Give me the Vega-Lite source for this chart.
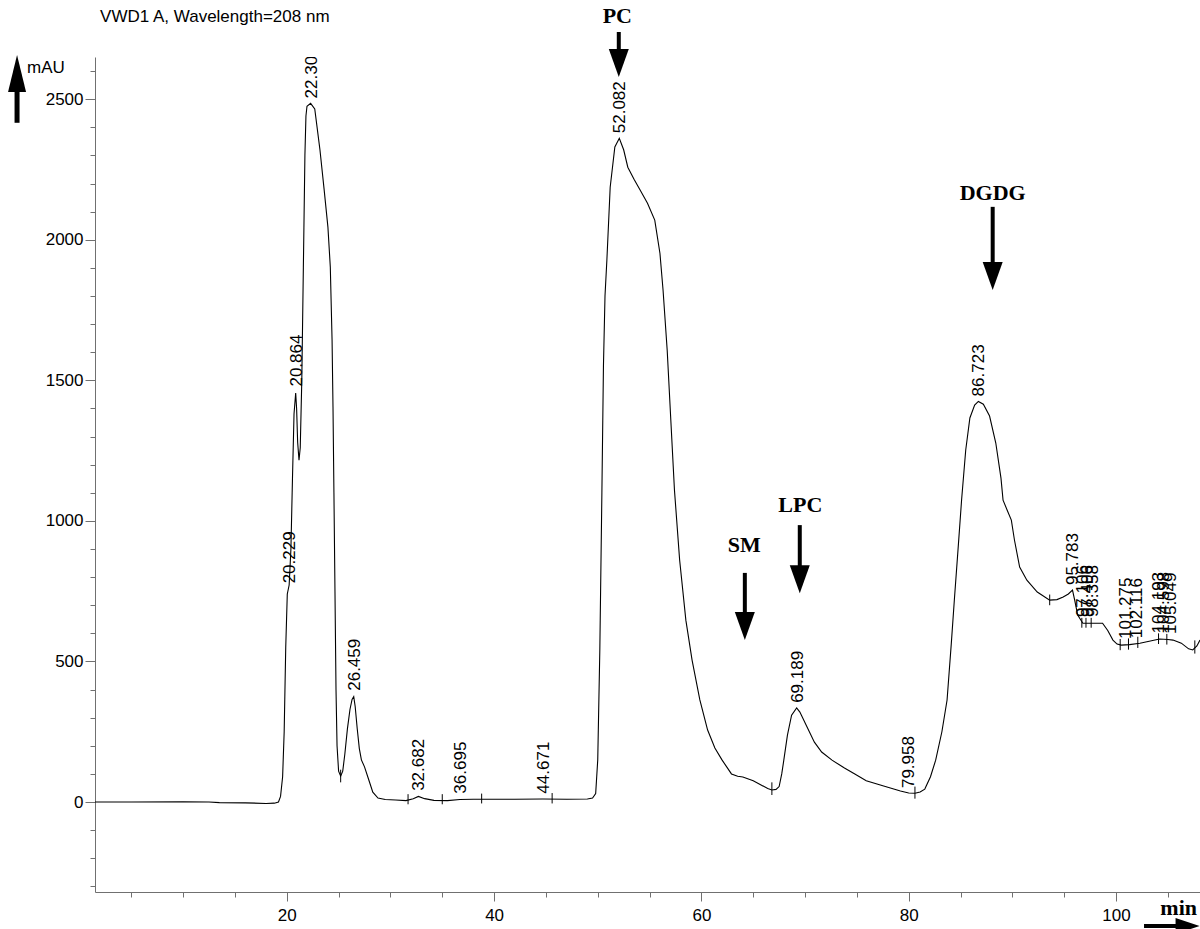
{
  "$schema": "https://vega.github.io/schema/vega-lite/v6.json",
  "autosize": "none",
  "width": 1105,
  "height": 835,
  "padding": {"left": 95, "top": 57, "right": 0, "bottom": 37},
  "background": "white",
  "config": {
    "view": {"stroke": null},
    "axis": {"grid": false, "domainColor": "#707070", "tickColor": "#707070", "labelColor": "#000000", "labelFont": "Liberation Sans", "labelFontSize": 17, "labelOverlap": false, "labelFlush": false}
  },
  "resolve": {"axis": {"y": "independent"}},
  "datasets": {
    "trace": [
      {"t":1.5,"v":0},{"t":5,"v":0},{"t":10,"v":0.5},{"t":12.5,"v":0},{"t":13.5,"v":-2},{"t":16,"v":-3},{"t":18,"v":-5},{"t":18.8,"v":-4},{"t":19.2,"v":0},{"t":19.4,"v":20},{"t":19.6,"v":90},{"t":19.75,"v":250},{"t":19.9,"v":550},{"t":20.05,"v":740},{"t":20.23,"v":772},{"t":20.4,"v":900},{"t":20.55,"v":1150},{"t":20.7,"v":1380},{"t":20.86,"v":1455},{"t":20.95,"v":1400},{"t":21.05,"v":1280},{"t":21.18,"v":1216},{"t":21.3,"v":1260},{"t":21.45,"v":1500},{"t":21.6,"v":1900},{"t":21.75,"v":2300},{"t":21.85,"v":2440},{"t":21.95,"v":2475},{"t":22.3,"v":2485},{"t":22.7,"v":2465},{"t":23.2,"v":2320},{"t":23.6,"v":2180},{"t":23.97,"v":2045},{"t":24.2,"v":1903},{"t":24.37,"v":1644},{"t":24.46,"v":1405},{"t":24.55,"v":1100},{"t":24.65,"v":750},{"t":24.75,"v":400},{"t":24.85,"v":200},{"t":25.0,"v":110},{"t":25.2,"v":92},{"t":25.4,"v":110},{"t":25.6,"v":170},{"t":25.85,"v":260},{"t":26.1,"v":330},{"t":26.3,"v":365},{"t":26.46,"v":375},{"t":26.6,"v":340},{"t":26.8,"v":260},{"t":27.0,"v":190},{"t":27.2,"v":150},{"t":27.5,"v":125},{"t":27.9,"v":80},{"t":28.3,"v":35},{"t":28.8,"v":14},{"t":29.5,"v":9},{"t":30.5,"v":7},{"t":31.5,"v":5},{"t":32.2,"v":12},{"t":32.7,"v":20},{"t":33.3,"v":12},{"t":34.2,"v":6},{"t":35.5,"v":5},{"t":36.7,"v":9},{"t":38,"v":10},{"t":40,"v":10},{"t":42,"v":10},{"t":44.7,"v":11},{"t":47,"v":10},{"t":49,"v":11},{"t":49.5,"v":14},{"t":49.8,"v":30},{"t":50.0,"v":150},{"t":50.2,"v":540},{"t":50.4,"v":1100},{"t":50.55,"v":1550},{"t":50.7,"v":1800},{"t":50.88,"v":1927},{"t":51.2,"v":2187},{"t":51.65,"v":2330},{"t":52.08,"v":2361},{"t":52.5,"v":2320},{"t":52.9,"v":2258},{"t":53.5,"v":2215},{"t":54.1,"v":2176},{"t":54.8,"v":2130},{"t":55.5,"v":2070},{"t":56.0,"v":1952},{"t":56.3,"v":1821},{"t":56.7,"v":1607},{"t":57.05,"v":1358},{"t":57.4,"v":1110},{"t":57.9,"v":861},{"t":58.5,"v":647},{"t":59.1,"v":505},{"t":59.85,"v":363},{"t":60.6,"v":256},{"t":61.3,"v":192},{"t":62.0,"v":149},{"t":62.9,"v":100},{"t":63.5,"v":92},{"t":64.0,"v":89},{"t":65.0,"v":76},{"t":65.8,"v":60},{"t":66.4,"v":48},{"t":66.8,"v":43},{"t":67.2,"v":45},{"t":67.5,"v":55},{"t":67.75,"v":100},{"t":67.95,"v":149},{"t":68.3,"v":238},{"t":68.7,"v":309},{"t":69.19,"v":335},{"t":69.5,"v":320},{"t":70.1,"v":274},{"t":70.9,"v":213},{"t":71.6,"v":178},{"t":72.6,"v":149},{"t":73.8,"v":121},{"t":74.8,"v":100},{"t":75.9,"v":76},{"t":77.5,"v":58},{"t":79.2,"v":39},{"t":80.0,"v":32},{"t":80.6,"v":31},{"t":81.1,"v":36},{"t":81.55,"v":46},{"t":82.1,"v":90},{"t":82.6,"v":149},{"t":83.2,"v":250},{"t":83.7,"v":363},{"t":84.1,"v":560},{"t":84.4,"v":718},{"t":84.8,"v":920},{"t":85.1,"v":1074},{"t":85.5,"v":1252},{"t":85.9,"v":1366},{"t":86.36,"v":1412},{"t":86.72,"v":1425},{"t":87.2,"v":1415},{"t":87.8,"v":1373},{"t":88.4,"v":1277},{"t":88.9,"v":1152},{"t":89.1,"v":1074},{"t":89.5,"v":1038},{"t":89.9,"v":1003},{"t":90.2,"v":932},{"t":90.7,"v":836},{"t":91.4,"v":789},{"t":92.4,"v":747},{"t":93.6,"v":718},{"t":94.3,"v":720},{"t":94.9,"v":729},{"t":95.4,"v":740},{"t":95.8,"v":754},{"t":96.0,"v":720},{"t":96.3,"v":665},{"t":96.8,"v":636},{"t":97.5,"v":636},{"t":98.3,"v":636},{"t":98.7,"v":636},{"t":99.2,"v":610},{"t":99.7,"v":576},{"t":100.1,"v":562},{"t":100.5,"v":558},{"t":101.3,"v":560},{"t":102.3,"v":565},{"t":103.2,"v":572},{"t":104.2,"v":580},{"t":105.0,"v":578},{"t":105.5,"v":576},{"t":106.3,"v":565},{"t":107.0,"v":545},{"t":107.4,"v":541},{"t":107.8,"v":555},{"t":108.1,"v":576}
    ],
    "peaks": [
      {"t":20.229,"v":760,"label":"20.229"},
      {"t":20.864,"v":1460,"label":"20.864"},
      {"t":22.305,"v":2485,"label":"22.305"},
      {"t":26.459,"v":378,"label":"26.459"},
      {"t":32.682,"v":22,"label":"32.682"},
      {"t":36.695,"v":12,"label":"36.695"},
      {"t":44.671,"v":12,"label":"44.671"},
      {"t":52.082,"v":2361,"label":"52.082"},
      {"t":69.189,"v":335,"label":"69.189"},
      {"t":79.958,"v":32,"label":"79.958"},
      {"t":86.723,"v":1425,"label":"86.723"},
      {"t":95.783,"v":754,"label":"95.783"},
      {"t":96.75,"v":640,"label":"97.106"},
      {"t":97.2,"v":640,"label":"97.406"},
      {"t":97.65,"v":640,"label":"98.358"},
      {"t":100.85,"v":562,"label":"101.275"},
      {"t":101.95,"v":565,"label":"102.116"},
      {"t":104.05,"v":582,"label":"104.193"},
      {"t":104.5,"v":582,"label":"104.598"},
      {"t":105.2,"v":580,"label":"105.049"}
    ],
    "marks": [
      {"t":25.2,"lo":70,"hi":115},
      {"t":31.7,"lo":-8,"hi":28},
      {"t":35.0,"lo":-8,"hi":28},
      {"t":38.8,"lo":-5,"hi":30},
      {"t":45.6,"lo":-5,"hi":32},
      {"t":66.8,"lo":25,"hi":70},
      {"t":80.6,"lo":12,"hi":55},
      {"t":93.6,"lo":700,"hi":738},
      {"t":96.7,"lo":620,"hi":655},
      {"t":97.1,"lo":620,"hi":655},
      {"t":97.6,"lo":620,"hi":655},
      {"t":100.4,"lo":540,"hi":580},
      {"t":101.2,"lo":542,"hi":582},
      {"t":102.1,"lo":548,"hi":588},
      {"t":104.1,"lo":562,"hi":600},
      {"t":104.9,"lo":560,"hi":598},
      {"t":107.6,"lo":528,"hi":575}
    ],
    "compounds": [
      {"t":51.89,"v":2771,"name":"PC"},
      {"t":64.14,"v":889,"name":"SM"},
      {"t":69.54,"v":1032,"name":"LPC"},
      {"t":88.1,"v":2142,"name":"DGDG"},
      {"t":106.04,"v":-402,"name":"min"}
    ],
    "downArrows": [
      {"t":52.03,"tip":2579,"top":2739,"bottom":2668},
      {"t":64.19,"tip":576,"top":815,"bottom":662},
      {"t":69.49,"tip":743,"top":985,"bottom":836},
      {"t":88.1,"tip":1821,"top":2117,"bottom":1914}
    ],
    "sansNotes": [
      {"t":1.99,"v":2775,"text":"VWD1 A, Wavelength=208 nm"},
      {"t":-5.05,"v":2593,"text":"mAU"}
    ],
    "upArrow": [{"t":-6.02,"tip":2657,"top":2533,"bottom":2416}],
    "rightArrow": [{"v":-441,"tip":108.06,"from":102.7,"to":105.96}]
  },
  "layer": [
    {
      "data": {"name": "trace"},
      "mark": {"type": "line", "color": "#000000", "strokeWidth": 1.1, "interpolate": "linear"},
      "encoding": {
        "x": {"field": "t", "type": "quantitative",
          "scale": {"domain": [1.5, 108.1], "nice": false, "zero": false},
          "axis": {"title": null, "labelOverlap": false, "labelBound": false,
            "values": [5,10,15,20,25,30,35,40,45,50,55,60,65,70,75,80,85,90,95,100,105],
            "labelExpr": "datum.value % 20 === 0 ? datum.label : ''",
            "tickSize": {"condition": {"test": "datum.value % 20 === 0", "value": 9}, "value": 5},
            "labelPadding": 6}},
        "y": {"field": "v", "type": "quantitative",
          "scale": {"domain": [-320, 2650], "nice": false, "zero": false},
          "axis": {"title": null, "format": "d", "labelOverlap": false, "labelBound": false,
            "values": [0,500,1000,1500,2000,2500],
            "tickSize": 10, "labelPadding": 2}}
      }
    },
    {
      "data": {"name": "marks"},
      "mark": {"type": "rule", "color": "#000000", "strokeWidth": 1},
      "encoding": {
        "x": {"field": "t", "type": "quantitative"},
        "y": {"field": "lo", "type": "quantitative",
          "axis": {"title": null, "orient": "left", "labels": false, "domain": false, "tickSize": 5,
            "values": [-300,-200,-100,100,200,300,400,600,700,800,900,1100,1200,1300,1400,1600,1700,1800,1900,2100,2200,2300,2400,2600]}},
        "y2": {"field": "hi"}
      }
    },
    {
      "data": {"name": "peaks"},
      "mark": {"type": "text", "angle": 270, "align": "left", "baseline": "middle", "dx": 5, "dy": 1, "font": "Liberation Sans", "fontSize": 17, "color": "#000000", "clip": true},
      "encoding": {
        "x": {"field": "t", "type": "quantitative"},
        "y": {"field": "v", "type": "quantitative", "axis": null},
        "text": {"field": "label"}
      }
    },
    {
      "data": {"name": "compounds"},
      "mark": {"type": "text", "align": "center", "baseline": "alphabetic", "font": "Liberation Serif", "fontWeight": "bold", "fontSize": 22, "color": "#000000"},
      "encoding": {
        "x": {"field": "t", "type": "quantitative"},
        "y": {"field": "v", "type": "quantitative", "axis": null},
        "text": {"field": "name"}
      }
    },
    {
      "data": {"name": "downArrows"},
      "mark": {"type": "rule", "color": "#000000", "strokeWidth": 4},
      "encoding": {
        "x": {"field": "t", "type": "quantitative"},
        "y": {"field": "top", "type": "quantitative", "axis": null},
        "y2": {"field": "bottom"}
      }
    },
    {
      "data": {"name": "downArrows"},
      "mark": {"type": "point", "shape": "M0,0L-1,-2.8L1,-2.8Z", "size": 400, "filled": true, "color": "#000000", "opacity": 1, "strokeWidth": 0},
      "encoding": {
        "x": {"field": "t", "type": "quantitative"},
        "y": {"field": "tip", "type": "quantitative", "axis": null}
      }
    },
    {
      "data": {"name": "sansNotes"},
      "mark": {"type": "text", "align": "left", "baseline": "alphabetic", "font": "Liberation Sans", "fontSize": 17, "color": "#000000"},
      "encoding": {
        "x": {"field": "t", "type": "quantitative"},
        "y": {"field": "v", "type": "quantitative", "axis": null},
        "text": {"field": "text"}
      }
    },
    {
      "data": {"name": "upArrow"},
      "mark": {"type": "rule", "color": "#000000", "strokeWidth": 5},
      "encoding": {
        "x": {"field": "t", "type": "quantitative"},
        "y": {"field": "top", "type": "quantitative", "axis": null},
        "y2": {"field": "bottom"}
      }
    },
    {
      "data": {"name": "upArrow"},
      "mark": {"type": "point", "shape": "M0,0L-1,4.1L1,4.1Z", "size": 324, "filled": true, "color": "#000000", "opacity": 1, "strokeWidth": 0},
      "encoding": {
        "x": {"field": "t", "type": "quantitative"},
        "y": {"field": "tip", "type": "quantitative", "axis": null}
      }
    },
    {
      "data": {"name": "rightArrow"},
      "mark": {"type": "rule", "color": "#000000", "strokeWidth": 4},
      "encoding": {
        "x": {"field": "from", "type": "quantitative"},
        "x2": {"field": "to"},
        "y": {"field": "v", "type": "quantitative", "axis": null}
      }
    },
    {
      "data": {"name": "rightArrow"},
      "mark": {"type": "point", "shape": "M0,0L-3,-1L-3,1Z", "size": 256, "filled": true, "color": "#000000", "opacity": 1, "strokeWidth": 0},
      "encoding": {
        "x": {"field": "tip", "type": "quantitative"},
        "y": {"field": "v", "type": "quantitative", "axis": null}
      }
    }
  ]
}
